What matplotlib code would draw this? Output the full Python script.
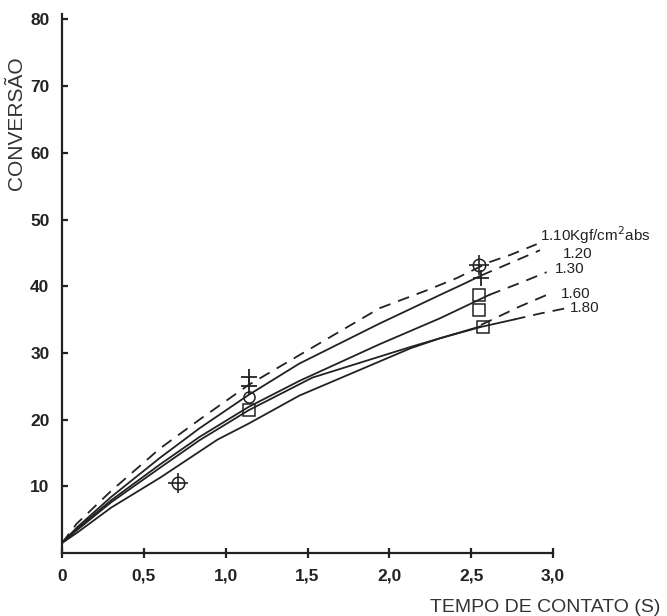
import matplotlib
matplotlib.use("Agg")
import matplotlib.pyplot as plt

# curve data: tempo de contato (s) vs conversao
p110_t = [0.0, 0.09, 0.3, 0.6, 0.84, 1.14, 1.48, 1.94, 2.23, 2.41, 2.61, 2.74, 2.90]
p110_c = [1.5, 4.4, 9.3, 15.7, 20.0, 25.2, 30.1, 36.7, 39.4, 41.2, 43.6, 44.7, 46.3]

p120_t = [0.0, 0.09, 0.3, 0.6, 0.84, 1.14, 1.45, 1.94, 2.31, 2.45, 2.56]
p120_c = [1.5, 3.8, 8.4, 14.3, 18.7, 23.7, 28.4, 34.4, 38.7, 40.3, 41.6]
p120_ext_t = [2.56, 2.75, 2.92]
p120_ext_c = [41.6, 43.6, 45.4]

p130_t = [0.0, 0.09, 0.3, 0.6, 0.84, 1.14, 1.45, 1.94, 2.31, 2.61]
p130_c = [1.5, 3.6, 7.9, 13.3, 17.4, 21.9, 25.8, 31.3, 35.2, 38.7]
p130_ext_t = [2.61, 2.8, 2.96]
p130_ext_c = [38.7, 40.5, 42.1]

p160_t = [0.0, 0.09, 0.3, 0.6, 0.84, 1.14, 1.53, 2.13, 2.56]
p160_c = [1.5, 3.4, 7.6, 12.8, 16.9, 21.4, 26.3, 30.9, 34.0]
p160_ext_t = [2.56, 2.8, 3.0]
p160_ext_c = [34.2, 37.0, 39.1]

p180_t = [0.0, 0.09, 0.3, 0.6, 0.95, 1.14, 1.45, 2.13, 2.31, 2.56, 2.76]
p180_c = [1.5, 3.0, 6.8, 11.3, 17.0, 19.4, 23.6, 30.7, 32.2, 33.9, 35.0]
p180_ext_t = [2.76, 2.92, 3.08]
p180_ext_c = [35.0, 35.9, 36.7]

# experimental points
plus_t = [1.14, 1.14, 2.56]
plus_c = [26.4, 25.0, 41.2]
circplus_t = [0.71, 2.55]
circplus_c = [10.5, 43.2]
circ_t = [1.14]
circ_c = [23.4]
square_t = [1.14, 2.55, 2.55, 2.57]
square_c = [21.4, 38.7, 36.4, 33.9]

curve_labels = ["1.10Kgf/cm$^{2}$abs", "1.20", "1.30", "1.60", "1.80"]
label_t = [2.92, 3.06, 3.01, 3.05, 3.10]
label_c = [47.6, 44.8, 42.6, 38.9, 36.7]

x_ticks = [0, 0.5, 1.0, 1.5, 2.0, 2.5, 3.0]
x_ticklabels = ["0", "0,5", "1,0", "1,5", "2,0", "2,5", "3,0"]
y_ticks = [10, 20, 30, 40, 50, 60, 70, 80]

ink = "#222222"
dash = (0, (6.5, 4.5))
lw = 1.3

fig = plt.figure(figsize=(6.67, 6.16), dpi=100)
ax = fig.add_axes([62 / 667, 63 / 616, 605 / 667, 543 / 616])
ax.set_xlim(0, 605 / 163.7)
ax.set_ylim(0, 543 / 6.67)

ax.plot(p110_t, p110_c, color=ink, lw=lw, linestyle=dash)
ax.plot(p120_t, p120_c, color=ink, lw=lw)
ax.plot(p120_ext_t, p120_ext_c, color=ink, lw=lw, linestyle=dash)
ax.plot(p130_t, p130_c, color=ink, lw=lw)
ax.plot(p130_ext_t, p130_ext_c, color=ink, lw=lw, linestyle=dash)
ax.plot(p160_t, p160_c, color=ink, lw=lw)
ax.plot(p160_ext_t, p160_ext_c, color=ink, lw=lw, linestyle=dash)
ax.plot(p180_t, p180_c, color=ink, lw=lw)
ax.plot(p180_ext_t, p180_ext_c, color=ink, lw=lw, linestyle=dash)

ax.plot(plus_t, plus_c, linestyle="none", marker="+", ms=11, mew=1.3, color=ink)
ax.plot(circplus_t, circplus_c, linestyle="none", marker="o", ms=9, mfc="none", mew=1.1, color=ink)
ax.plot(circplus_t, circplus_c, linestyle="none", marker="+", ms=14, mew=1.2, color=ink)
ax.plot(circ_t, circ_c, linestyle="none", marker="o", ms=8, mfc="none", mew=1.1, color=ink)
ax.plot(square_t, square_c, linestyle="none", marker="s", ms=8, mfc="none", mew=1.1, color=ink)

for txt, t, c in zip(curve_labels, label_t, label_c):
    ax.text(t, c, txt, fontsize=11, color=ink, va="center", ha="left",
            family=["Liberation Sans", "DejaVu Sans"])

for side in ["top", "right"]:
    ax.spines[side].set_visible(False)
ax.spines["left"].set_bounds(0, 80.8)
ax.spines["bottom"].set_bounds(0, 3.0)
for side in ["left", "bottom"]:
    ax.spines[side].set_linewidth(1.6)
    ax.spines[side].set_color(ink)

ax.set_xticks(x_ticks)
ax.set_xticklabels(x_ticklabels)
ax.set_yticks(y_ticks)
ax.tick_params(axis="x", direction="inout", length=7, width=1.6, pad=8, colors=ink)
ax.tick_params(axis="y", direction="in", length=4, width=1.6, pad=9, colors=ink)
for lab in ax.get_xticklabels() + ax.get_yticklabels():
    lab.set_family(["Liberation Sans", "DejaVu Sans"])
    lab.set_fontweight("bold")
    lab.set_fontsize(12.5)

fig.text(17 / 667, 1 - 123 / 616, "CONVERSÃO", rotation=90, ha="center", va="center",
         fontsize=15, color="#333333", family=["Liberation Sans", "DejaVu Sans"])
fig.text(660 / 667, 1 - 607 / 616, "TEMPO DE CONTATO (S)", ha="right", va="center",
         fontsize=14, color="#333333", family=["Liberation Sans", "DejaVu Sans"])

fig.savefig("out.png", dpi=100)
